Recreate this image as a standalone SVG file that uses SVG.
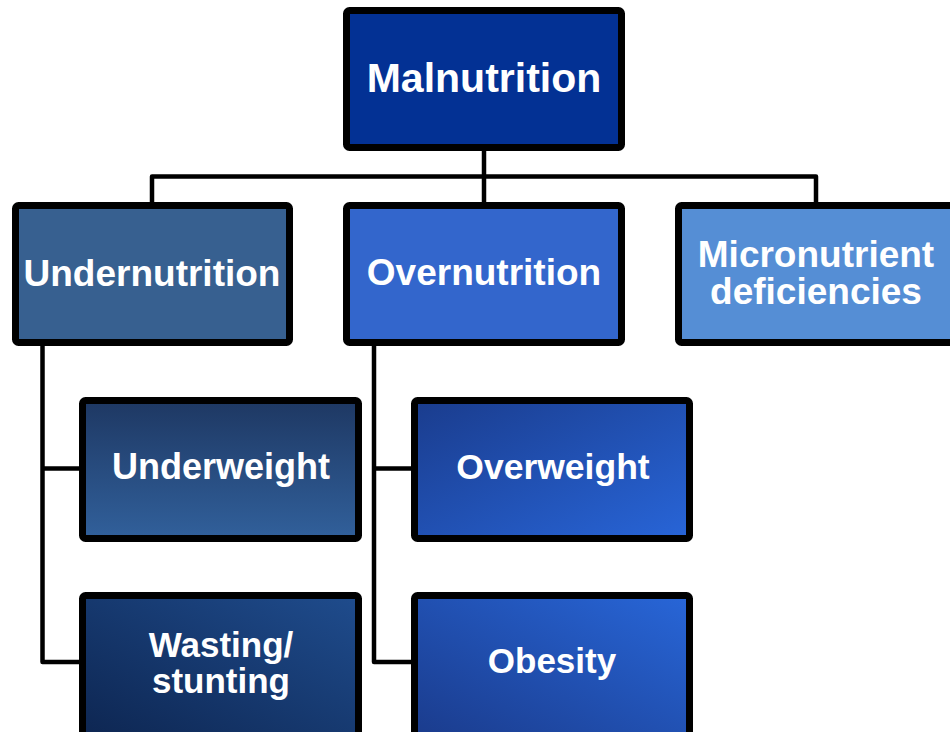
<svg xmlns="http://www.w3.org/2000/svg" width="950" height="732" viewBox="0 0 950 732">
<defs>
<linearGradient id="gUnderweight" x1="0" y1="0" x2="0" y2="1">
<stop offset="0" stop-color="#1E3863"/>
<stop offset="1" stop-color="#31609B"/>
</linearGradient>
<linearGradient id="gWasting" x1="0" y1="1" x2="1" y2="0">
<stop offset="0" stop-color="#0D2550"/>
<stop offset="1" stop-color="#1F4C8D"/>
</linearGradient>
<linearGradient id="gOver" x1="0" y1="0" x2="1" y2="1">
<stop offset="0" stop-color="#1A3C8D"/>
<stop offset="1" stop-color="#2865D8"/>
</linearGradient>
<linearGradient id="gObesity" x1="0" y1="1" x2="1" y2="0">
<stop offset="0" stop-color="#1A3A8A"/>
<stop offset="1" stop-color="#2866D8"/>
</linearGradient>
</defs>
<style>
.box{stroke:#000;stroke-width:7;stroke-linejoin:round}
.lbl{font-family:"Liberation Sans",Arial,sans-serif;font-weight:bold;fill:#fff;text-anchor:middle}
.conn{fill:none;stroke:#000;stroke-width:4.5;stroke-linejoin:round}
</style>
<rect width="950" height="732" fill="#fff"/>
<g id="connectors">
<path class="conn" d="M484,151 V202"/>
<path class="conn" d="M152,202 V176.5 H816 V202"/>
<path class="conn" d="M42.5,346 V662 H79"/>
<path class="conn" d="M42.5,468.5 H79"/>
<path class="conn" d="M374,346 V662 H412"/>
<path class="conn" d="M374,468.5 H412"/>
</g>
<g id="malnutrition">
<rect class="box" x="346.5" y="10.5" width="275" height="137" rx="3" fill="#033194"/>
<text class="lbl" x="484" y="92" font-size="41">Malnutrition</text>
</g>
<g id="undernutrition">
<rect class="box" x="15.5" y="205.5" width="274" height="137" rx="3" fill="#376090"/>
<text class="lbl" x="152" y="286" font-size="37">Undernutrition</text>
</g>
<g id="overnutrition">
<rect class="box" x="346.5" y="205.5" width="275" height="137" rx="3" fill="#3366CC"/>
<text class="lbl" x="484" y="285" font-size="37">Overnutrition</text>
</g>
<g id="micronutrient">
<rect class="box" x="678.5" y="205.5" width="285" height="137" rx="3" fill="#558ED5"/>
<text class="lbl" x="816" y="267" font-size="37">Micronutrient</text>
<text class="lbl" x="816" y="304" font-size="37">deficiencies</text>
</g>
<g id="underweight">
<rect class="box" x="82.5" y="400.5" width="276" height="138" rx="3" fill="url(#gUnderweight)"/>
<text class="lbl" x="221" y="479" font-size="36">Underweight</text>
</g>
<g id="wasting">
<rect class="box" x="82.5" y="595.5" width="276" height="150" rx="3" fill="url(#gWasting)"/>
<text class="lbl" x="221" y="657" font-size="35">Wasting/</text>
<text class="lbl" x="221" y="693" font-size="35">stunting</text>
</g>
<g id="overweight">
<rect class="box" x="414.5" y="400.5" width="275" height="138" rx="3" fill="url(#gOver)"/>
<text class="lbl" x="553" y="479" font-size="35.5">Overweight</text>
</g>
<g id="obesity">
<rect class="box" x="414.5" y="595.5" width="275" height="150" rx="3" fill="url(#gObesity)"/>
<text class="lbl" x="552" y="673" font-size="35">Obesity</text>
</g>
</svg>
